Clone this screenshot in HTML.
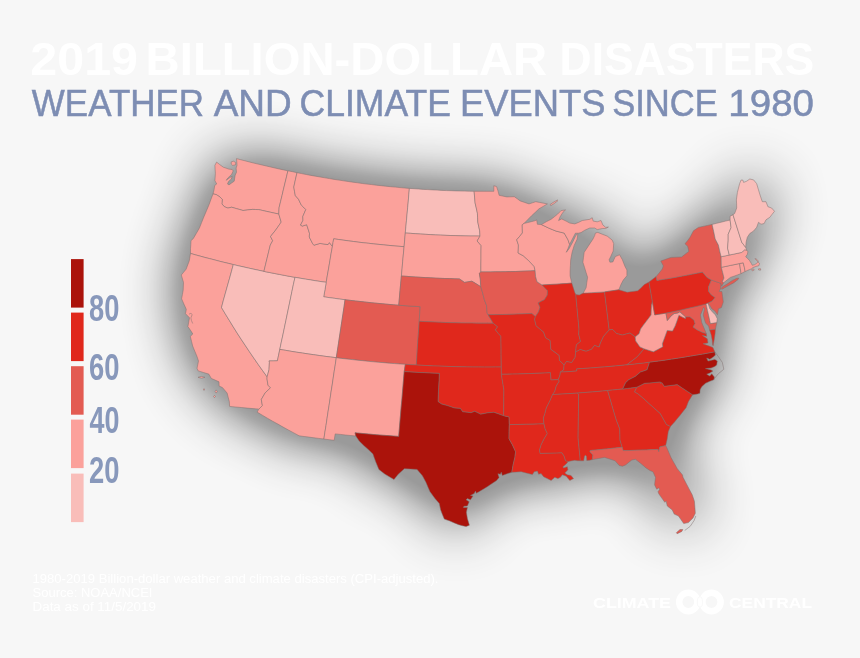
<!DOCTYPE html>
<html lang="en"><head><meta charset="utf-8"><title>2019 Billion-Dollar Disasters</title>
<style>
html,body{margin:0;padding:0;background:#f7f7f7;}
body{width:860px;height:658px;overflow:hidden;font-family:"Liberation Sans",sans-serif;}
svg{display:block}
text{font-family:"Liberation Sans",sans-serif}
</style></head><body>
<svg width="860" height="658" viewBox="0 0 860 658">
<defs>
<filter id="sh" x="-25%" y="-35%" width="150%" height="170%" color-interpolation-filters="sRGB">
<feGaussianBlur in="SourceAlpha" stdDeviation="30" result="b1"/>
<feComponentTransfer in="b1"><feFuncA type="table" tableValues="0 0.083 0.166 0.249 0.332 0.38 0.38 0.38 0.38 0.38 0.38"/></feComponentTransfer>
</filter>
</defs>
<rect width="860" height="658" fill="#f7f7f7"/>
<g filter="url(#sh)"><path d="M236.5,158.6 240.7,159.7 245.0,160.8 249.2,161.9 253.5,163.0 257.8,164.0 262.1,165.0 266.4,166.0 270.7,167.0 275.0,168.0 279.3,169.0 283.6,169.9 287.9,170.8 286.5,176.9 285.0,183.0 283.5,189.2 282.1,195.3 280.6,201.5 279.1,207.6 278.8,214.0 274.8,213.2 270.7,212.3 266.7,211.4 262.7,210.5 258.7,209.6 255.6,209.5 252.6,209.4 247.8,209.9 243.0,210.5 239.7,209.5 236.3,208.6 231.6,207.2 227.9,208.1 224.4,206.7 221.9,203.9 222.3,199.3 220.0,197.0 216.3,194.6 213.0,193.9 214.0,190.0 214.7,185.5 216.7,183.9 214.9,180.7 215.4,173.3 215.1,169.3 214.9,165.4 216.6,162.1 219.5,164.4 223.3,167.2 226.0,168.1 228.8,169.1 232.1,169.5 233.2,170.9 231.6,174.4 227.9,177.9 226.2,180.3 230.0,177.5 232.2,176.2 231.3,179.0 228.5,181.6 227.5,184.0 229.0,184.9 231.6,183.0 234.2,181.2 235.2,175.1 236.5,172.3 236.1,168.1 237.0,165.3 236.8,162.1ZM231.2,161.9 233.5,161.2 235.8,162.6 235.4,164.9 232.6,165.4 231.2,164.0ZM213.0,193.9 216.3,194.6 220.0,197.0 222.3,199.3 221.9,203.9 224.4,206.7 227.9,208.1 231.6,207.2 236.3,208.6 239.7,209.5 243.0,210.5 247.8,209.9 252.6,209.4 255.6,209.5 258.7,209.6 262.7,210.5 266.7,211.4 270.7,212.3 274.8,213.2 278.8,214.0 281.2,222.1 278.5,226.0 275.7,230.0 270.5,236.5 272.7,240.7 270.3,245.0 268.7,251.6 267.1,258.2 265.5,264.8 263.9,271.4 258.8,270.3 253.7,269.2 248.6,268.1 243.5,266.9 238.4,265.8 233.3,264.6 228.6,263.4 223.8,262.3 219.0,261.1 214.2,259.8 209.5,258.6 204.7,257.4 200.0,256.1 195.2,254.8 190.5,253.4 190.5,248.8 190.8,244.7 191.0,240.6 193.2,238.7 196.3,233.4 199.4,228.1 201.6,222.5 203.8,217.0 206.5,210.7 209.1,204.5 211.0,199.2ZM190.5,253.4 195.2,254.8 200.0,256.1 204.7,257.4 209.5,258.6 214.2,259.8 219.0,261.1 223.8,262.3 228.6,263.4 233.3,264.6 231.4,271.7 229.4,278.9 227.4,286.0 225.4,293.2 223.4,300.3 221.5,307.5 225.3,313.9 229.2,320.2 233.1,326.6 237.1,333.0 241.2,339.3 245.4,345.6 249.6,351.9 253.9,358.2 258.2,364.4 262.6,370.6 267.1,376.8 267.0,379.0 268.0,385.2 270.5,387.8 265.2,392.8 261.3,399.5 262.4,405.6 258.9,409.1 253.0,408.6 247.2,408.1 241.3,407.5 235.4,407.0 229.6,406.4 229.3,401.6 228.2,397.3 227.1,393.0 222.4,387.5 219.1,386.1 219.0,381.8 215.1,380.1 211.3,378.4 208.8,374.1 203.5,372.5 198.2,370.9 197.0,368.3 198.5,361.1 196.9,356.2 194.8,351.2 192.7,346.1 191.5,341.2 190.3,336.4 192.8,334.0 191.2,331.3 187.9,326.6 188.7,322.2 189.5,317.8 185.5,313.7 186.3,309.3 183.9,304.1 181.6,298.8 182.4,294.5 183.2,290.1 183.5,282.4 181.3,275.0 186.1,269.2 187.7,265.0 189.3,260.8ZM198.0,377.3 201.5,376.4 205.0,377.3 201.5,378.2ZM203.0,389.5 204.0,388.7 205.0,389.5 204.0,390.3ZM215.0,391.5 216.2,389.9 217.4,391.5 216.2,393.1ZM213.5,396.5 214.5,395.3 215.5,396.5 214.5,397.7ZM233.3,264.6 238.4,265.8 243.5,266.9 248.6,268.1 253.7,269.2 258.8,270.3 263.9,271.4 269.1,272.4 274.2,273.4 279.4,274.4 284.6,275.4 289.8,276.4 295.0,277.3 293.4,284.5 291.9,291.7 290.4,299.0 288.9,306.2 287.4,313.4 285.9,320.6 284.4,327.8 282.9,335.0 281.3,342.2 279.8,349.4 278.6,355.1 277.4,360.8 273.3,360.9 269.1,360.9 269.4,362.4 269.0,369.8 267.1,376.8 262.6,370.6 258.2,364.4 253.9,358.2 249.6,351.9 245.4,345.6 241.2,339.3 237.1,333.0 233.1,326.6 229.2,320.2 225.3,313.9 221.5,307.5 223.4,300.3 225.4,293.2 227.4,286.0 229.4,278.9 231.4,271.7ZM287.9,170.8 292.5,171.7 297.0,172.7 295.4,179.8 293.8,187.0 294.5,191.3 295.3,195.6 298.5,199.2 301.2,204.9 303.5,207.2 305.8,209.5 302.8,216.5 303.0,220.3 300.5,225.1 302.3,226.1 306.7,224.7 308.1,229.0 309.5,233.4 309.3,237.1 312.7,243.7 313.9,245.2 317.0,244.3 320.0,243.4 324.0,244.0 328.0,244.6 329.4,242.6 332.4,246.5 331.1,253.6 329.9,260.8 328.7,268.0 327.4,275.2 326.2,282.3 321.0,281.6 315.8,280.8 310.6,279.9 305.3,279.1 300.1,278.2 295.0,277.3 289.8,276.4 284.6,275.4 279.4,274.4 274.2,273.4 269.1,272.4 263.9,271.4 265.5,264.8 267.1,258.2 268.7,251.6 270.3,245.0 272.7,240.7 270.5,236.5 275.7,230.0 278.5,226.0 281.2,222.1 278.8,214.0 279.1,207.6 280.6,201.5 282.1,195.3 283.5,189.2 285.0,183.0 286.5,176.9ZM297.0,172.7 301.6,173.6 306.2,174.5 310.9,175.4 315.5,176.2 320.2,177.0 324.8,177.8 329.5,178.6 334.2,179.4 338.9,180.1 343.5,180.8 348.2,181.5 352.9,182.2 357.6,182.8 362.3,183.5 367.0,184.1 371.7,184.6 376.4,185.2 381.1,185.7 385.8,186.2 390.5,186.7 395.3,187.1 400.0,187.6 404.7,188.0 409.4,188.4 408.8,194.7 408.3,201.1 407.7,207.4 407.1,213.8 406.5,220.2 405.9,226.6 405.3,233.0 404.7,239.8 404.1,246.7 399.0,246.3 394.0,245.9 388.9,245.4 383.9,244.9 378.9,244.4 373.8,243.9 368.8,243.3 363.8,242.8 358.7,242.2 353.7,241.5 348.7,240.9 343.7,240.2 338.7,239.5 333.7,238.8 333.0,242.6 332.4,246.5 329.4,242.6 328.0,244.6 324.0,244.0 320.0,243.4 317.0,244.3 313.9,245.2 312.7,243.7 309.3,237.1 309.5,233.4 308.1,229.0 306.7,224.7 302.3,226.1 300.5,225.1 303.0,220.3 302.8,216.5 305.8,209.5 303.5,207.2 301.2,204.9 298.5,199.2 295.3,195.6 294.5,191.3 293.8,187.0 295.4,179.8ZM332.4,246.5 333.0,242.6 333.7,238.8 338.7,239.5 343.7,240.2 348.7,240.9 353.7,241.5 358.7,242.2 363.8,242.8 368.8,243.3 373.8,243.9 378.9,244.4 383.9,244.9 388.9,245.4 394.0,245.9 399.0,246.3 404.1,246.7 403.4,254.0 402.7,261.3 402.1,268.6 401.4,276.0 400.7,283.3 400.0,290.6 399.4,297.9 398.7,305.2 393.3,304.8 387.9,304.3 382.6,303.8 377.2,303.3 371.8,302.8 366.5,302.2 361.1,301.6 355.7,301.0 350.4,300.4 345.0,299.7 339.7,299.1 334.4,298.3 329.0,297.6 323.7,296.8 325.0,289.6 326.2,282.3 327.4,275.2 328.7,268.0 329.9,260.8 331.1,253.6ZM295.0,277.3 300.1,278.2 305.3,279.1 310.6,279.9 315.8,280.8 321.0,281.6 326.2,282.3 325.0,289.6 323.7,296.8 329.0,297.6 334.4,298.3 339.7,299.1 345.0,299.7 344.0,307.0 342.9,314.3 341.8,321.5 340.7,328.8 339.6,336.0 338.5,343.3 337.4,350.5 336.3,357.7 330.6,357.0 325.0,356.3 319.3,355.5 313.6,354.7 308.0,353.9 302.3,353.0 296.7,352.2 291.1,351.3 285.4,350.3 279.8,349.4 281.3,342.2 282.9,335.0 284.4,327.8 285.9,320.6 287.4,313.4 288.9,306.2 290.4,299.0 291.9,291.7 293.4,284.5ZM279.8,349.4 285.4,350.3 291.1,351.3 296.7,352.2 302.3,353.0 308.0,353.9 313.6,354.7 319.3,355.5 325.0,356.3 330.6,357.0 336.3,357.7 335.3,364.6 334.2,371.4 333.2,378.2 332.2,385.0 331.1,391.8 330.1,398.6 329.1,405.3 328.0,412.1 327.0,418.8 326.0,425.6 324.9,432.3 323.9,439.0 318.9,438.4 314.0,437.8 309.0,437.1 304.1,436.5 299.1,435.8 293.8,432.9 288.4,430.0 283.1,427.1 277.9,424.1 272.6,421.2 267.4,418.2 262.3,415.2 257.1,412.1 258.9,409.1 262.4,405.6 261.3,399.5 265.2,392.8 270.5,387.8 268.0,385.2 267.0,379.0 267.1,376.8 269.0,369.8 269.4,362.4 269.1,360.9 273.3,360.9 277.4,360.8 278.6,355.1ZM345.0,299.7 350.4,300.4 355.7,301.0 361.1,301.6 366.5,302.2 371.8,302.8 377.2,303.3 382.6,303.8 387.9,304.3 393.3,304.8 398.7,305.2 404.1,305.6 409.5,306.0 414.8,306.3 420.2,306.7 419.7,314.0 419.2,321.3 418.7,328.6 418.2,335.9 417.7,343.2 417.2,350.5 416.8,357.7 416.3,365.0 410.8,364.7 405.3,364.3 400.0,364.0 394.6,363.6 389.3,363.2 384.0,362.7 378.7,362.3 373.4,361.8 368.1,361.3 362.8,360.7 357.5,360.2 352.2,359.6 346.9,359.0 341.6,358.4 336.3,357.7 337.4,350.5 338.5,343.3 339.6,336.0 340.7,328.8 341.8,321.5 342.9,314.3 344.0,307.0ZM336.3,357.7 341.6,358.4 346.9,359.0 352.2,359.6 357.5,360.2 362.8,360.7 368.1,361.3 373.4,361.8 378.7,362.3 384.0,362.7 389.3,363.2 394.6,363.6 400.0,364.0 405.3,364.3 404.2,371.6 403.6,378.8 403.0,386.0 402.4,393.3 401.8,400.5 401.1,407.7 400.5,414.9 399.9,422.1 399.3,429.3 398.7,436.4 393.2,436.0 387.8,435.6 382.3,435.2 376.8,434.8 371.4,434.3 365.9,433.8 360.5,433.3 355.0,432.8 355.8,436.0 350.6,435.5 345.5,435.0 340.3,434.4 335.2,433.9 334.2,440.3 329.1,439.7 323.9,439.0 324.9,432.3 326.0,425.6 327.0,418.8 328.0,412.1 329.1,405.3 330.1,398.6 331.1,391.8 332.2,385.0 333.2,378.2 334.2,371.4 335.3,364.6ZM409.4,188.4 414.0,188.7 418.6,189.0 423.3,189.4 427.9,189.6 432.5,189.9 437.1,190.1 441.7,190.4 446.3,190.6 451.0,190.7 455.6,190.9 460.2,191.0 464.8,191.1 469.4,191.2 474.1,191.3 474.6,197.1 475.1,203.0 476.3,208.1 477.4,213.2 477.6,217.6 477.8,222.0 478.7,226.4 479.7,230.8 480.0,236.1 475.0,236.0 470.1,236.0 465.1,235.9 460.1,235.8 455.1,235.6 450.1,235.5 445.1,235.3 440.2,235.1 435.2,234.9 430.2,234.6 425.2,234.3 420.3,234.0 415.3,233.7 410.3,233.3 405.3,233.0 405.9,226.6 406.5,220.2 407.1,213.8 407.7,207.4 408.3,201.1 408.8,194.7ZM405.3,233.0 410.3,233.3 415.3,233.7 420.3,234.0 425.2,234.3 430.2,234.6 435.2,234.9 440.2,235.1 445.1,235.3 450.1,235.5 455.1,235.6 460.1,235.8 465.1,235.9 470.1,236.0 475.0,236.0 480.0,236.1 477.1,241.0 481.1,245.5 481.0,252.1 481.0,258.7 480.9,265.3 480.9,271.9 479.3,273.3 480.3,279.2 480.5,283.0 480.8,286.7 478.2,285.1 475.0,283.1 471.9,281.2 468.2,281.8 464.5,282.4 459.4,278.9 454.5,278.8 449.7,278.6 444.9,278.5 440.0,278.3 435.2,278.1 430.4,277.8 425.5,277.6 420.7,277.3 415.9,277.0 411.0,276.7 406.2,276.3 401.4,276.0 402.1,268.6 402.7,261.3 403.4,254.0 404.1,246.7 404.7,239.8ZM401.4,276.0 406.2,276.3 411.0,276.7 415.9,277.0 420.7,277.3 425.5,277.6 430.4,277.8 435.2,278.1 440.0,278.3 444.9,278.5 449.7,278.6 454.5,278.8 459.4,278.9 464.5,282.4 468.2,281.8 471.9,281.2 475.0,283.1 478.2,285.1 480.8,286.7 482.9,293.9 484.4,299.8 486.6,305.6 487.1,313.0 488.0,314.7 491.0,319.6 493.1,323.2 487.8,323.2 482.5,323.2 477.2,323.2 471.9,323.1 466.7,323.1 461.4,323.0 456.1,322.8 450.8,322.7 445.6,322.5 440.3,322.3 435.0,322.1 429.7,321.8 424.5,321.6 419.2,321.3 419.7,314.0 420.2,306.7 414.8,306.3 409.5,306.0 404.1,305.6 398.7,305.2 399.4,297.9 400.0,290.6 400.7,283.3ZM419.2,321.3 424.5,321.6 429.7,321.8 435.0,322.1 440.3,322.3 445.6,322.5 450.8,322.7 456.1,322.8 461.4,323.0 466.7,323.1 471.9,323.1 477.2,323.2 482.5,323.2 487.8,323.2 493.1,323.2 497.6,326.8 495.4,329.8 498.2,333.4 500.9,336.2 501.0,342.3 501.1,348.5 501.1,354.7 501.2,360.8 501.3,367.0 495.6,367.0 490.0,367.1 484.3,367.1 478.6,367.0 472.9,367.0 467.3,366.9 461.6,366.8 455.9,366.7 450.3,366.5 444.6,366.3 438.9,366.1 433.3,365.9 427.6,365.6 421.9,365.3 416.3,365.0 416.8,357.7 417.2,350.5 417.7,343.2 418.2,335.9 418.7,328.6ZM416.3,365.0 421.9,365.3 427.6,365.6 433.3,365.9 438.9,366.1 444.6,366.3 450.3,366.5 455.9,366.7 461.6,366.8 467.3,366.9 472.9,367.0 478.6,367.0 484.3,367.1 490.0,367.1 495.6,367.0 501.3,367.0 501.4,374.3 502.2,379.6 503.1,384.9 503.9,390.2 503.8,396.6 503.8,403.0 503.7,409.3 503.6,415.7 498.7,414.0 493.9,412.3 487.9,412.8 484.3,413.5 480.7,414.2 474.7,411.3 471.1,412.7 466.9,412.2 462.7,411.8 460.4,408.4 454.4,408.0 450.9,406.8 447.3,405.6 441.5,404.0 438.0,401.5 438.3,394.5 438.6,387.5 439.0,380.5 439.3,373.4 434.3,373.2 429.3,373.0 424.3,372.7 419.2,372.5 414.2,372.2 409.2,371.9 404.2,371.6 405.3,364.3 410.8,364.7ZM404.2,371.6 409.2,371.9 414.2,372.2 419.2,372.5 424.3,372.7 429.3,373.0 434.3,373.2 439.3,373.4 439.0,380.5 438.6,387.5 438.3,394.5 438.0,401.5 441.5,404.0 447.3,405.6 450.9,406.8 454.4,408.0 460.4,408.4 462.7,411.8 466.9,412.2 471.1,412.7 474.7,411.3 480.7,414.2 484.3,413.5 487.9,412.8 493.9,412.3 498.7,414.0 503.6,415.7 509.1,416.9 509.2,420.7 509.3,424.6 509.1,431.6 509.0,438.7 512.5,444.9 515.6,451.8 514.9,457.4 514.0,461.1 513.1,464.9 512.5,468.6 511.8,472.3 507.2,473.7 502.3,475.5 501.3,472.2 500.4,474.3 497.9,473.7 499.1,477.4 496.6,480.5 494.8,481.7 491.0,484.2 487.3,486.7 483.6,489.0 479.8,491.3 476.3,493.3 475.5,491.1 474.2,493.6 470.5,495.4 473.0,496.1 470.5,499.8 467.4,498.6 466.1,499.8 469.2,501.7 467.4,506.0 463.9,506.3 463.4,507.5 467.4,507.5 466.4,512.3 467.4,518.5 469.4,525.2 466.1,526.6 462.4,525.7 458.7,524.7 454.3,522.9 449.9,521.0 444.3,519.1 442.4,514.4 440.6,509.8 439.3,503.5 435.0,498.6 429.9,491.6 427.9,486.9 425.9,482.2 422.4,475.7 417.1,469.4 410.7,469.1 404.4,468.7 398.2,474.3 394.0,479.5 389.4,476.8 384.8,474.1 378.9,469.4 375.8,462.0 374.3,457.9 372.9,453.9 368.3,449.6 363.7,445.4 359.2,441.1 355.8,436.0 355.0,432.8 360.5,433.3 365.9,433.8 371.4,434.3 376.8,434.8 382.3,435.2 387.8,435.6 393.2,436.0 398.7,436.4 399.3,429.3 399.9,422.1 400.5,414.9 401.1,407.7 401.8,400.5 402.4,393.3 403.0,386.0 403.6,378.8ZM480.0,236.1 479.7,230.8 478.7,226.4 477.8,222.0 477.6,217.6 477.4,213.2 476.3,208.1 475.1,203.0 474.6,197.1 474.1,191.3 478.0,191.3 482.0,191.3 485.9,191.3 489.9,191.3 493.8,191.3 493.8,185.7 496.6,186.6 498.1,191.2 499.1,195.3 502.9,196.1 506.7,196.9 510.5,196.8 514.4,196.7 517.3,198.8 520.2,200.9 524.6,202.4 529.0,203.9 532.4,202.8 535.7,201.7 539.6,202.4 543.5,203.2 547.4,203.9 543.2,206.4 539.0,208.8 535.3,212.3 531.5,215.8 527.8,219.6 524.0,223.4 522.2,224.8 522.3,228.9 522.4,233.0 519.6,236.4 516.7,239.8 518.4,244.9 518.3,249.0 518.1,253.0 523.3,255.8 528.7,260.7 534.1,266.4 535.1,270.7 530.2,270.9 525.3,271.1 520.4,271.3 515.4,271.5 510.5,271.6 505.6,271.7 500.6,271.8 495.7,271.8 490.8,271.9 485.8,271.9 480.9,271.9 480.9,265.3 481.0,258.7 481.0,252.1 481.1,245.5 477.1,241.0ZM480.9,271.9 485.8,271.9 490.8,271.9 495.7,271.8 500.6,271.8 505.6,271.7 510.5,271.6 515.4,271.5 520.4,271.3 525.3,271.1 530.2,270.9 535.1,270.7 535.6,276.6 537.0,281.7 542.0,285.0 547.5,290.7 547.3,295.1 544.4,299.7 541.2,301.3 538.1,302.9 540.0,307.3 538.6,311.7 535.4,316.6 531.8,313.5 527.0,313.7 522.1,313.9 517.2,314.1 512.4,314.3 507.5,314.4 502.6,314.5 497.8,314.6 492.9,314.7 488.0,314.7 487.1,313.0 486.6,305.6 484.4,299.8 482.9,293.9 480.8,286.7 480.5,283.0 480.3,279.2 479.3,273.3ZM488.0,314.7 492.9,314.7 497.8,314.6 502.6,314.5 507.5,314.4 512.4,314.3 517.2,314.1 522.1,313.9 527.0,313.7 531.8,313.5 535.4,316.6 534.6,319.3 536.1,325.8 539.8,328.9 543.6,332.1 545.6,337.8 550.2,340.5 550.5,344.9 550.8,349.3 555.0,352.3 559.2,355.4 559.5,360.5 564.1,364.9 563.7,369.8 560.4,372.1 560.0,375.1 558.3,379.6 554.6,379.8 550.9,380.0 550.4,372.7 545.0,373.0 539.5,373.2 534.1,373.4 528.6,373.6 523.2,373.8 517.7,374.0 512.3,374.1 506.9,374.2 501.4,374.3 501.3,367.0 501.2,360.8 501.1,354.7 501.1,348.5 501.0,342.3 500.9,336.2 498.2,333.4 495.4,329.8 497.6,326.8 493.1,323.2 491.0,319.6ZM501.4,374.3 506.9,374.2 512.3,374.1 517.7,374.0 523.2,373.8 528.6,373.6 534.1,373.4 539.5,373.2 545.0,373.0 550.4,372.7 550.9,380.0 554.6,379.8 558.3,379.6 559.3,381.0 556.2,386.2 554.8,391.4 552.6,394.6 550.1,400.4 546.4,407.8 544.9,413.7 543.4,418.1 544.0,423.8 538.2,424.0 532.5,424.2 526.7,424.3 520.9,424.4 515.1,424.5 509.3,424.6 509.2,420.7 509.1,416.9 503.6,415.7 503.7,409.3 503.8,403.0 503.8,396.6 503.9,390.2 503.1,384.9 502.2,379.6ZM509.3,424.6 515.1,424.5 520.9,424.4 526.7,424.3 532.5,424.2 538.2,424.0 544.0,423.8 545.1,428.7 547.3,433.5 544.2,438.7 541.1,444.9 539.6,449.9 540.1,453.4 545.6,453.2 551.0,453.1 556.5,452.9 561.9,452.7 564.1,456.1 565.6,460.8 568.3,461.4 567.9,462.0 566.0,464.2 562.9,466.7 563.5,468.0 567.3,466.7 567.9,469.8 564.8,473.0 567.3,474.8 571.0,475.4 573.5,478.6 569.8,480.4 566.0,476.1 562.3,474.8 560.4,477.3 557.9,478.6 554.8,477.3 551.1,480.4 547.3,478.6 543.6,476.7 541.1,473.6 538.6,474.2 537.4,471.1 534.3,471.7 532.4,474.6 526.2,473.0 521.2,471.7 516.2,472.1 511.8,472.3 512.5,468.6 513.1,464.9 514.0,461.1 514.9,457.4 515.6,451.8 512.5,444.9 509.0,438.7 509.1,431.6ZM535.1,270.7 534.1,266.4 528.7,260.7 523.3,255.8 518.1,253.0 518.3,249.0 518.4,244.9 516.7,239.8 519.6,236.4 522.4,233.0 522.3,228.9 522.2,224.8 524.0,223.4 527.6,222.6 531.2,221.7 534.7,220.8 536.7,219.9 537.4,224.3 541.4,224.6 545.0,226.3 548.6,228.0 552.4,229.6 556.1,231.1 560.2,232.1 564.2,233.1 568.0,239.8 569.6,244.4 568.0,248.5 566.3,252.3 569.2,248.5 572.9,241.7 575.8,235.5 577.9,233.6 577.1,239.2 574.2,245.4 572.1,252.3 570.7,259.8 570.4,265.4 570.1,271.0 570.1,275.9 571.8,283.1 566.9,283.5 561.9,283.8 556.9,284.2 551.9,284.4 547.0,284.7 542.0,285.0 537.0,281.7 535.6,276.6ZM542.0,285.0 547.0,284.7 551.9,284.4 556.9,284.2 561.9,283.8 566.9,283.5 571.8,283.1 573.3,287.8 574.8,292.5 575.8,294.6 576.4,301.5 577.1,308.4 577.7,315.3 578.4,322.2 579.0,329.0 578.7,334.2 580.5,341.4 576.4,344.7 575.6,352.1 575.2,357.2 571.7,362.6 566.5,361.5 564.1,364.9 559.5,360.5 559.2,355.4 555.0,352.3 550.8,349.3 550.5,344.9 550.2,340.5 545.6,337.8 543.6,332.1 539.8,328.9 536.1,325.8 534.6,319.3 535.4,316.6 538.6,311.7 540.0,307.3 538.1,302.9 541.2,301.3 544.4,299.7 547.3,295.1 547.5,290.7ZM575.8,294.6 579.3,295.1 583.2,293.1 587.5,292.9 591.7,292.7 596.0,292.4 600.3,292.2 604.6,291.9 605.3,298.2 606.1,304.6 606.9,310.9 607.7,317.2 608.4,323.6 609.2,329.9 606.4,333.1 603.5,336.4 600.4,343.0 599.2,347.1 594.5,345.4 591.5,349.3 586.0,351.3 580.2,349.5 575.6,352.1 576.4,344.7 580.5,341.4 578.7,334.2 579.0,329.0 578.4,322.2 577.7,315.3 577.1,308.4 576.4,301.5ZM583.2,293.1 586.1,287.8 586.8,282.6 587.6,277.3 586.0,272.3 584.5,267.3 582.9,262.2 583.5,257.3 584.2,252.3 587.9,246.7 590.4,242.9 592.9,239.2 594.7,235.5 595.4,233.0 597.8,232.4 602.2,234.2 607.2,236.1 612.2,240.1 613.7,243.6 613.2,251.0 610.7,256.6 609.1,259.8 609.9,262.2 612.8,262.0 615.3,256.6 619.6,254.8 622.4,259.8 623.8,263.5 625.3,267.2 626.9,269.9 626.9,275.8 623.3,280.0 621.2,284.0 618.8,289.8 614.1,290.5 609.3,291.2 604.6,291.9 600.3,292.2 596.0,292.4 591.7,292.7 587.5,292.9ZM541.4,224.6 546.2,221.8 548.7,220.5 551.1,219.3 554.3,216.8 557.4,214.3 561.1,210.6 565.5,209.9 563.0,212.2 560.1,216.8 558.6,220.5 561.7,218.9 566.1,221.1 569.8,223.1 574.8,223.9 578.5,222.4 582.3,220.5 586.0,219.9 589.8,219.3 592.2,217.7 593.2,221.1 597.2,221.8 601.0,220.5 602.8,224.9 605.7,227.4 608.4,227.0 605.9,228.4 602.2,228.6 599.7,229.1 597.2,229.6 594.7,228.0 589.8,228.0 587.3,229.1 584.8,230.2 581.0,232.6 578.3,233.2 575.4,233.2 572.9,238.0 569.6,244.4 568.0,239.8 564.2,233.1 560.2,232.1 556.1,231.1 552.4,229.6 548.6,228.0 545.0,226.3ZM549.9,204.7 553.0,202.5 557.4,200.0 558.0,200.6 554.3,203.5 550.9,205.6ZM604.6,291.9 609.3,291.2 614.1,290.5 618.8,289.8 623.0,291.0 627.2,292.2 630.9,291.7 634.6,291.2 637.8,290.8 641.1,287.7 644.3,284.6 649.0,282.0 650.1,288.5 651.3,295.0 652.4,301.5 651.6,305.2 651.3,310.1 651.1,315.0 648.6,318.3 646.1,321.6 642.9,325.8 640.6,329.1 639.1,333.7 635.2,336.9 630.0,333.0 626.2,334.0 622.4,335.1 616.6,333.5 612.7,329.5 609.2,329.9 608.4,323.6 607.7,317.2 606.9,310.9 606.1,304.6 605.3,298.2ZM575.6,352.1 580.2,349.5 586.0,351.3 591.5,349.3 594.5,345.4 599.2,347.1 600.4,343.0 603.5,336.4 606.4,333.1 609.2,329.9 612.7,329.5 616.6,333.5 622.4,335.1 626.2,334.0 630.0,333.0 635.2,336.9 635.7,340.9 640.0,347.0 644.1,348.8 640.6,352.9 637.0,357.0 631.9,360.9 626.8,364.8 621.3,365.4 615.7,365.9 610.1,366.4 604.6,366.9 599.0,367.3 593.4,367.8 587.8,368.2 582.2,368.5 576.6,368.9 576.8,371.0 571.4,371.4 565.9,371.8 560.4,372.1 563.7,369.8 564.1,364.9 566.5,361.5 571.7,362.6 575.2,357.2ZM560.4,372.1 565.9,371.8 571.4,371.4 576.8,371.0 576.6,368.9 582.2,368.5 587.8,368.2 593.4,367.8 599.0,367.3 604.6,366.9 610.1,366.4 615.7,365.9 621.3,365.4 626.8,364.8 632.5,364.2 638.2,363.5 643.9,362.9 649.6,362.1 647.1,369.7 643.8,370.9 640.5,372.0 635.3,376.4 632.0,378.1 628.7,379.8 625.6,382.7 622.7,389.0 617.7,389.5 612.7,390.0 607.6,390.5 602.6,391.0 597.5,391.5 592.5,391.9 587.4,392.3 582.4,392.7 577.3,393.1 572.4,393.4 567.5,393.7 562.5,394.0 557.6,394.3 552.6,394.6 554.8,391.4 556.2,386.2 559.3,381.0 558.3,379.6 560.0,375.1ZM552.6,394.6 557.6,394.3 562.5,394.0 567.5,393.7 572.4,393.4 577.3,393.1 578.6,394.3 578.5,401.6 578.5,408.9 578.4,416.1 578.3,423.4 578.2,430.6 578.1,437.8 578.6,443.6 579.2,449.3 579.8,455.0 580.3,460.8 577.8,460.7 574.7,460.3 571.0,460.9 568.3,461.4 565.6,460.8 564.1,456.1 561.9,452.7 556.5,452.9 551.0,453.1 545.6,453.2 540.1,453.4 539.6,449.9 541.1,444.9 544.2,438.7 547.3,433.5 545.1,428.7 544.0,423.8 543.4,418.1 544.9,413.7 546.4,407.8 550.1,400.4ZM577.3,393.1 582.4,392.7 587.4,392.3 592.5,391.9 597.5,391.5 602.6,391.0 607.6,390.5 609.4,396.6 611.2,402.6 612.9,408.6 614.7,414.6 616.5,420.6 618.1,424.6 619.7,428.6 619.9,434.4 620.0,440.1 622.2,447.2 616.8,447.8 611.5,448.4 606.2,448.9 600.9,449.5 595.5,450.0 590.2,450.5 589.9,451.8 592.9,454.9 592.4,459.6 589.7,460.2 586.8,460.5 586.4,456.1 585.4,455.3 584.5,456.1 583.7,460.8 580.3,460.8 579.8,455.0 579.2,449.3 578.6,443.6 578.1,437.8 578.2,430.6 578.3,423.4 578.4,416.1 578.5,408.9 578.5,401.6 578.6,394.3ZM607.6,390.5 612.7,390.0 617.7,389.5 622.7,389.0 627.4,388.4 632.1,387.8 636.8,387.2 634.6,391.9 637.9,393.7 644.7,399.5 648.9,403.4 653.2,407.2 660.3,413.6 663.4,419.1 666.5,424.5 670.5,426.4 668.3,431.6 667.2,439.0 665.7,445.6 659.8,446.9 658.8,451.8 658.0,449.4 652.1,449.6 646.3,449.9 640.5,450.1 634.7,450.3 628.9,450.5 623.1,450.6 622.2,447.2 620.0,440.1 619.9,434.4 619.7,428.6 618.1,424.6 616.5,420.6 614.7,414.6 612.9,408.6 611.2,402.6 609.4,396.6ZM592.4,459.6 592.9,454.9 589.9,451.8 590.2,450.5 595.5,450.0 600.9,449.5 606.2,448.9 611.5,448.4 616.8,447.8 622.2,447.2 623.1,450.6 628.9,450.5 634.7,450.3 640.5,450.1 646.3,449.9 652.1,449.6 658.0,449.4 658.8,451.8 659.8,446.9 665.7,445.6 666.7,447.5 668.9,452.5 671.0,457.5 674.1,463.1 677.3,468.7 682.5,474.9 682.9,477.1 686.0,483.1 689.1,488.9 692.2,494.8 694.4,501.2 694.9,507.3 695.3,513.3 693.0,517.9 688.4,522.6 683.7,523.5 681.1,519.8 678.5,516.0 674.2,514.1 672.3,510.0 667.3,506.0 666.1,501.1 664.8,502.3 661.8,498.1 658.8,493.8 658.0,491.7 659.8,489.2 658.6,488.0 656.7,489.2 654.6,484.9 655.0,481.1 655.5,477.4 653.0,471.8 649.9,470.5 646.1,468.0 641.1,463.7 635.5,459.3 631.8,460.0 628.7,462.4 625.6,464.9 622.5,466.2 619.3,465.6 615.1,460.8 609.8,459.1 604.6,457.4 598.5,458.5ZM676.3,532.8 680.0,529.5 682.8,529.5 681.9,531.4 677.2,533.7ZM670.5,426.4 666.5,424.5 663.4,419.1 660.3,413.6 653.2,407.2 648.9,403.4 644.7,399.5 637.9,393.7 634.6,391.9 636.8,387.2 640.7,385.3 644.6,383.3 649.9,382.9 655.1,382.4 660.4,381.9 660.7,383.4 661.8,382.5 664.3,386.3 668.6,385.7 672.9,385.2 677.2,384.6 682.3,388.0 687.5,391.4 692.6,394.8 688.5,401.4 686.1,407.7 683.1,411.4 680.2,415.2 677.4,418.5 674.6,421.9ZM622.7,389.0 625.6,382.7 628.7,379.8 632.0,378.1 635.3,376.4 640.5,372.0 643.8,370.9 647.1,369.7 649.6,362.1 655.1,361.4 660.5,360.7 666.0,359.9 671.4,359.1 676.9,358.3 682.3,357.4 687.8,356.5 693.2,355.6 698.6,354.7 704.0,353.8 709.4,352.8 714.8,351.8 715.4,354.9 713.6,356.8 709.8,359.3 706.7,358.0 708.0,361.1 711.4,360.3 714.8,359.4 717.3,360.9 716.7,364.9 714.8,366.4 711.1,368.0 705.5,368.6 711.1,369.9 712.9,371.1 709.8,373.0 706.7,374.2 709.8,376.1 711.7,373.8 714.4,377.1 713.8,379.8 709.8,381.3 705.5,383.3 701.7,386.7 700.1,389.8 699.9,393.3 697.4,394.1 692.6,394.8 687.5,391.4 682.3,388.0 677.2,384.6 672.9,385.2 668.6,385.7 664.3,386.3 661.8,382.5 660.7,383.4 660.4,381.9 655.1,382.4 649.9,382.9 644.6,383.3 640.7,385.3 636.8,387.2 632.1,387.8 627.4,388.4ZM649.6,362.1 643.9,362.9 638.2,363.5 632.5,364.2 626.8,364.8 631.9,360.9 637.0,357.0 640.6,352.9 644.1,348.8 648.7,350.3 653.4,351.8 658.1,349.3 662.8,346.7 662.3,343.8 664.8,337.1 667.2,330.4 672.5,331.1 675.2,325.8 677.1,320.6 678.9,315.3 682.1,316.9 685.4,318.5 685.5,316.8 689.9,316.8 693.9,319.9 695.1,323.4 693.1,327.1 697.4,329.9 701.7,332.1 706.3,333.6 706.7,336.3 702.4,335.5 707.3,338.8 708.0,342.9 703.0,343.8 709.2,346.1 712.9,347.5 714.8,351.8 709.4,352.8 704.0,353.8 698.6,354.7 693.2,355.6 687.8,356.5 682.3,357.4 676.9,358.3 671.4,359.1 666.0,359.9 660.5,360.7 655.1,361.4ZM709.6,329.9 711.1,334.8 712.1,339.8 712.6,344.8 713.1,345.7 714.2,339.8 715.1,333.6 715.4,329.2 712.5,329.6ZM644.1,348.8 640.0,347.0 635.7,340.9 635.2,336.9 639.1,333.7 640.6,329.1 642.9,325.8 646.1,321.6 648.6,318.3 651.1,315.0 651.3,310.1 651.6,305.2 652.4,301.5 653.5,308.2 654.7,314.9 658.5,314.3 662.2,313.7 665.9,313.1 666.6,316.8 667.3,320.5 671.0,316.0 674.1,313.6 677.9,312.9 679.9,311.8 685.5,316.8 685.4,318.5 682.1,316.9 678.9,315.3 677.1,320.6 675.2,325.8 672.5,331.1 667.2,330.4 664.8,337.1 662.3,343.8 662.8,346.7 658.1,349.3 653.4,351.8 648.7,350.3ZM665.9,313.1 666.6,316.8 667.3,320.5 671.0,316.0 674.1,313.6 677.9,312.9 679.9,311.8 685.5,316.8 689.9,316.8 693.9,319.9 695.1,323.4 693.1,327.1 697.4,329.9 701.7,332.1 706.3,333.6 703.8,327.6 701.7,322.4 701.1,318.6 700.5,314.9 703.0,308.7 703.6,307.4 704.5,308.7 703.2,314.9 704.3,319.0 705.5,323.0 708.6,326.1 709.6,329.9 712.5,329.6 715.4,329.2 716.8,322.6 713.6,323.1 710.4,323.6 709.0,317.1 707.5,310.5 706.1,303.9 701.1,305.2 696.1,306.4 691.1,307.6 686.1,308.7 681.1,309.9 676.0,311.0 671.0,312.1ZM706.1,303.9 707.5,310.5 709.0,317.1 710.4,323.6 713.6,323.1 716.8,322.6 717.3,318.7 715.4,314.9 712.3,311.8 709.8,308.7 708.0,303.2 707.0,303.0ZM656.2,276.5 652.6,279.2 649.0,282.0 650.1,288.5 651.3,295.0 652.4,301.5 653.5,308.2 654.7,314.9 658.5,314.3 662.2,313.7 665.9,313.1 671.0,312.1 676.0,311.0 681.1,309.9 686.1,308.7 691.1,307.6 696.1,306.4 701.1,305.2 706.1,303.9 707.0,303.0 708.0,303.2 712.0,301.2 715.1,297.6 711.0,294.6 708.6,291.3 708.6,286.8 711.4,280.0 706.9,277.3 702.5,272.1 697.5,273.1 692.4,274.1 687.4,275.1 682.3,276.0 677.2,277.0 672.1,277.9 667.1,278.8 662.0,279.6 656.9,280.4ZM711.4,280.0 716.2,281.7 721.0,283.4 720.6,288.8 719.1,291.4 721.9,291.5 722.6,296.7 723.3,301.9 721.4,307.6 718.5,308.7 717.5,314.7 714.8,310.9 711.7,308.7 709.8,305.6 708.0,303.2 712.0,301.2 715.1,297.6 711.0,294.6 708.6,291.3 708.6,286.8ZM656.2,276.5 659.3,272.8 662.3,269.0 663.3,265.9 660.8,261.0 664.3,259.8 667.7,258.6 671.2,257.4 676.4,257.2 681.6,257.0 686.1,253.4 688.8,251.4 687.7,246.3 685.0,243.8 687.5,240.7 689.9,237.5 693.5,230.7 696.0,229.1 698.4,227.4 703.0,226.4 707.6,225.4 712.1,224.4 713.7,231.6 715.2,238.9 718.4,245.1 719.7,250.9 721.1,256.7 721.2,262.0 721.3,267.3 722.7,272.7 724.0,278.1 722.4,281.5 723.6,282.8 721.7,286.3 721.0,283.4 716.2,281.7 711.4,280.0 706.9,277.3 702.5,272.1 697.5,273.1 692.4,274.1 687.4,275.1 682.3,276.0 677.2,277.0 672.1,277.9 667.1,278.8 662.0,279.6 656.9,280.4ZM721.1,288.5 722.6,286.7 727.4,283.8 729.9,282.1 732.4,280.4 736.7,278.3 738.8,278.1 738.0,279.6 733.6,282.9 730.5,284.6 727.4,286.3 724.6,287.8 721.8,289.3ZM723.6,282.8 722.4,281.5 724.0,278.1 722.7,272.7 721.3,267.3 725.9,266.4 730.4,265.4 735.0,264.5 739.6,263.5 740.3,268.6 741.1,273.6 737.5,274.9 734.0,276.2 730.4,277.4 727.0,280.1ZM741.1,273.6 740.3,268.6 739.6,263.5 743.2,262.8 744.4,267.4 745.1,271.5 742.9,272.6ZM721.3,267.3 721.2,262.0 721.1,256.7 725.2,255.9 729.3,255.0 733.4,254.2 737.6,253.3 741.7,252.4 744.8,249.7 746.7,250.2 747.9,251.8 747.3,254.3 745.7,256.8 747.6,258.4 749.5,260.5 751.3,263.4 752.3,265.3 754.8,264.6 757.5,262.6 758.3,261.1 757.0,259.5 755.3,258.4 754.8,258.9 756.6,260.3 757.9,261.8 759.5,263.4 758.9,265.7 756.0,266.4 752.9,267.6 751.3,268.9 749.5,269.6 747.3,270.5 745.1,271.5 744.4,267.4 743.2,262.8 739.6,263.5 735.0,264.5 730.4,265.4 725.9,266.4ZM751.7,269.6 753.5,268.9 754.2,270.1 752.3,270.9ZM758.3,268.9 760.4,268.6 760.8,270.1 758.8,270.1ZM712.1,224.4 716.6,223.3 721.1,222.2 725.6,221.1 730.1,220.0 731.1,227.5 728.2,234.3 728.2,240.4 727.6,248.2 729.3,255.0 725.2,255.9 721.1,256.7 719.7,250.9 718.4,245.1 715.2,238.9 713.7,231.6ZM730.1,220.0 730.1,216.2 733.0,214.7 734.8,220.4 736.6,226.1 738.3,231.4 740.0,236.8 741.7,242.2 745.7,247.4 746.7,250.2 744.8,249.7 741.7,252.4 737.6,253.3 733.4,254.2 729.3,255.0 727.6,248.2 728.2,240.4 728.2,234.3 731.1,227.5ZM733.0,214.7 734.6,213.6 736.7,208.0 736.6,203.9 736.4,199.9 737.4,192.4 738.5,188.0 739.6,183.7 741.1,180.0 743.0,180.2 743.6,182.4 746.7,181.2 749.8,179.0 753.6,179.9 756.7,183.7 758.5,189.9 760.4,196.1 762.3,201.7 766.0,201.7 767.9,206.7 771.6,208.0 774.5,211.3 772.2,214.2 769.8,217.3 766.0,219.8 764.1,223.6 761.0,224.2 758.5,222.3 756.7,227.3 753.6,231.0 749.8,233.5 747.3,237.3 746.1,242.2 745.7,247.4 741.7,242.2 740.0,236.8 738.3,231.4 736.6,226.1 734.8,220.4Z" fill="#000"/></g>
<g stroke="#80706f" stroke-width="0.5" stroke-linejoin="round">
<path d="M236.5,158.6 240.7,159.7 245.0,160.8 249.2,161.9 253.5,163.0 257.8,164.0 262.1,165.0 266.4,166.0 270.7,167.0 275.0,168.0 279.3,169.0 283.6,169.9 287.9,170.8 286.5,176.9 285.0,183.0 283.5,189.2 282.1,195.3 280.6,201.5 279.1,207.6 278.8,214.0 274.8,213.2 270.7,212.3 266.7,211.4 262.7,210.5 258.7,209.6 255.6,209.5 252.6,209.4 247.8,209.9 243.0,210.5 239.7,209.5 236.3,208.6 231.6,207.2 227.9,208.1 224.4,206.7 221.9,203.9 222.3,199.3 220.0,197.0 216.3,194.6 213.0,193.9 214.0,190.0 214.7,185.5 216.7,183.9 214.9,180.7 215.4,173.3 215.1,169.3 214.9,165.4 216.6,162.1 219.5,164.4 223.3,167.2 226.0,168.1 228.8,169.1 232.1,169.5 233.2,170.9 231.6,174.4 227.9,177.9 226.2,180.3 230.0,177.5 232.2,176.2 231.3,179.0 228.5,181.6 227.5,184.0 229.0,184.9 231.6,183.0 234.2,181.2 235.2,175.1 236.5,172.3 236.1,168.1 237.0,165.3 236.8,162.1ZM231.2,161.9 233.5,161.2 235.8,162.6 235.4,164.9 232.6,165.4 231.2,164.0Z" fill="#fba19b"/>
<path d="M213.0,193.9 216.3,194.6 220.0,197.0 222.3,199.3 221.9,203.9 224.4,206.7 227.9,208.1 231.6,207.2 236.3,208.6 239.7,209.5 243.0,210.5 247.8,209.9 252.6,209.4 255.6,209.5 258.7,209.6 262.7,210.5 266.7,211.4 270.7,212.3 274.8,213.2 278.8,214.0 281.2,222.1 278.5,226.0 275.7,230.0 270.5,236.5 272.7,240.7 270.3,245.0 268.7,251.6 267.1,258.2 265.5,264.8 263.9,271.4 258.8,270.3 253.7,269.2 248.6,268.1 243.5,266.9 238.4,265.8 233.3,264.6 228.6,263.4 223.8,262.3 219.0,261.1 214.2,259.8 209.5,258.6 204.7,257.4 200.0,256.1 195.2,254.8 190.5,253.4 190.5,248.8 190.8,244.7 191.0,240.6 193.2,238.7 196.3,233.4 199.4,228.1 201.6,222.5 203.8,217.0 206.5,210.7 209.1,204.5 211.0,199.2Z" fill="#fba19b"/>
<path d="M190.5,253.4 195.2,254.8 200.0,256.1 204.7,257.4 209.5,258.6 214.2,259.8 219.0,261.1 223.8,262.3 228.6,263.4 233.3,264.6 231.4,271.7 229.4,278.9 227.4,286.0 225.4,293.2 223.4,300.3 221.5,307.5 225.3,313.9 229.2,320.2 233.1,326.6 237.1,333.0 241.2,339.3 245.4,345.6 249.6,351.9 253.9,358.2 258.2,364.4 262.6,370.6 267.1,376.8 267.0,379.0 268.0,385.2 270.5,387.8 265.2,392.8 261.3,399.5 262.4,405.6 258.9,409.1 253.0,408.6 247.2,408.1 241.3,407.5 235.4,407.0 229.6,406.4 229.3,401.6 228.2,397.3 227.1,393.0 222.4,387.5 219.1,386.1 219.0,381.8 215.1,380.1 211.3,378.4 208.8,374.1 203.5,372.5 198.2,370.9 197.0,368.3 198.5,361.1 196.9,356.2 194.8,351.2 192.7,346.1 191.5,341.2 190.3,336.4 192.8,334.0 191.2,331.3 187.9,326.6 188.7,322.2 189.5,317.8 185.5,313.7 186.3,309.3 183.9,304.1 181.6,298.8 182.4,294.5 183.2,290.1 183.5,282.4 181.3,275.0 186.1,269.2 187.7,265.0 189.3,260.8ZM198.0,377.3 201.5,376.4 205.0,377.3 201.5,378.2ZM203.0,389.5 204.0,388.7 205.0,389.5 204.0,390.3ZM215.0,391.5 216.2,389.9 217.4,391.5 216.2,393.1ZM213.5,396.5 214.5,395.3 215.5,396.5 214.5,397.7Z" fill="#fba19b"/>
<path d="M233.3,264.6 238.4,265.8 243.5,266.9 248.6,268.1 253.7,269.2 258.8,270.3 263.9,271.4 269.1,272.4 274.2,273.4 279.4,274.4 284.6,275.4 289.8,276.4 295.0,277.3 293.4,284.5 291.9,291.7 290.4,299.0 288.9,306.2 287.4,313.4 285.9,320.6 284.4,327.8 282.9,335.0 281.3,342.2 279.8,349.4 278.6,355.1 277.4,360.8 273.3,360.9 269.1,360.9 269.4,362.4 269.0,369.8 267.1,376.8 262.6,370.6 258.2,364.4 253.9,358.2 249.6,351.9 245.4,345.6 241.2,339.3 237.1,333.0 233.1,326.6 229.2,320.2 225.3,313.9 221.5,307.5 223.4,300.3 225.4,293.2 227.4,286.0 229.4,278.9 231.4,271.7Z" fill="#f9bdb9"/>
<path d="M287.9,170.8 292.5,171.7 297.0,172.7 295.4,179.8 293.8,187.0 294.5,191.3 295.3,195.6 298.5,199.2 301.2,204.9 303.5,207.2 305.8,209.5 302.8,216.5 303.0,220.3 300.5,225.1 302.3,226.1 306.7,224.7 308.1,229.0 309.5,233.4 309.3,237.1 312.7,243.7 313.9,245.2 317.0,244.3 320.0,243.4 324.0,244.0 328.0,244.6 329.4,242.6 332.4,246.5 331.1,253.6 329.9,260.8 328.7,268.0 327.4,275.2 326.2,282.3 321.0,281.6 315.8,280.8 310.6,279.9 305.3,279.1 300.1,278.2 295.0,277.3 289.8,276.4 284.6,275.4 279.4,274.4 274.2,273.4 269.1,272.4 263.9,271.4 265.5,264.8 267.1,258.2 268.7,251.6 270.3,245.0 272.7,240.7 270.5,236.5 275.7,230.0 278.5,226.0 281.2,222.1 278.8,214.0 279.1,207.6 280.6,201.5 282.1,195.3 283.5,189.2 285.0,183.0 286.5,176.9Z" fill="#fba19b"/>
<path d="M297.0,172.7 301.6,173.6 306.2,174.5 310.9,175.4 315.5,176.2 320.2,177.0 324.8,177.8 329.5,178.6 334.2,179.4 338.9,180.1 343.5,180.8 348.2,181.5 352.9,182.2 357.6,182.8 362.3,183.5 367.0,184.1 371.7,184.6 376.4,185.2 381.1,185.7 385.8,186.2 390.5,186.7 395.3,187.1 400.0,187.6 404.7,188.0 409.4,188.4 408.8,194.7 408.3,201.1 407.7,207.4 407.1,213.8 406.5,220.2 405.9,226.6 405.3,233.0 404.7,239.8 404.1,246.7 399.0,246.3 394.0,245.9 388.9,245.4 383.9,244.9 378.9,244.4 373.8,243.9 368.8,243.3 363.8,242.8 358.7,242.2 353.7,241.5 348.7,240.9 343.7,240.2 338.7,239.5 333.7,238.8 333.0,242.6 332.4,246.5 329.4,242.6 328.0,244.6 324.0,244.0 320.0,243.4 317.0,244.3 313.9,245.2 312.7,243.7 309.3,237.1 309.5,233.4 308.1,229.0 306.7,224.7 302.3,226.1 300.5,225.1 303.0,220.3 302.8,216.5 305.8,209.5 303.5,207.2 301.2,204.9 298.5,199.2 295.3,195.6 294.5,191.3 293.8,187.0 295.4,179.8Z" fill="#fba19b"/>
<path d="M332.4,246.5 333.0,242.6 333.7,238.8 338.7,239.5 343.7,240.2 348.7,240.9 353.7,241.5 358.7,242.2 363.8,242.8 368.8,243.3 373.8,243.9 378.9,244.4 383.9,244.9 388.9,245.4 394.0,245.9 399.0,246.3 404.1,246.7 403.4,254.0 402.7,261.3 402.1,268.6 401.4,276.0 400.7,283.3 400.0,290.6 399.4,297.9 398.7,305.2 393.3,304.8 387.9,304.3 382.6,303.8 377.2,303.3 371.8,302.8 366.5,302.2 361.1,301.6 355.7,301.0 350.4,300.4 345.0,299.7 339.7,299.1 334.4,298.3 329.0,297.6 323.7,296.8 325.0,289.6 326.2,282.3 327.4,275.2 328.7,268.0 329.9,260.8 331.1,253.6Z" fill="#fba19b"/>
<path d="M295.0,277.3 300.1,278.2 305.3,279.1 310.6,279.9 315.8,280.8 321.0,281.6 326.2,282.3 325.0,289.6 323.7,296.8 329.0,297.6 334.4,298.3 339.7,299.1 345.0,299.7 344.0,307.0 342.9,314.3 341.8,321.5 340.7,328.8 339.6,336.0 338.5,343.3 337.4,350.5 336.3,357.7 330.6,357.0 325.0,356.3 319.3,355.5 313.6,354.7 308.0,353.9 302.3,353.0 296.7,352.2 291.1,351.3 285.4,350.3 279.8,349.4 281.3,342.2 282.9,335.0 284.4,327.8 285.9,320.6 287.4,313.4 288.9,306.2 290.4,299.0 291.9,291.7 293.4,284.5Z" fill="#f9bdb9"/>
<path d="M279.8,349.4 285.4,350.3 291.1,351.3 296.7,352.2 302.3,353.0 308.0,353.9 313.6,354.7 319.3,355.5 325.0,356.3 330.6,357.0 336.3,357.7 335.3,364.6 334.2,371.4 333.2,378.2 332.2,385.0 331.1,391.8 330.1,398.6 329.1,405.3 328.0,412.1 327.0,418.8 326.0,425.6 324.9,432.3 323.9,439.0 318.9,438.4 314.0,437.8 309.0,437.1 304.1,436.5 299.1,435.8 293.8,432.9 288.4,430.0 283.1,427.1 277.9,424.1 272.6,421.2 267.4,418.2 262.3,415.2 257.1,412.1 258.9,409.1 262.4,405.6 261.3,399.5 265.2,392.8 270.5,387.8 268.0,385.2 267.0,379.0 267.1,376.8 269.0,369.8 269.4,362.4 269.1,360.9 273.3,360.9 277.4,360.8 278.6,355.1Z" fill="#fba19b"/>
<path d="M345.0,299.7 350.4,300.4 355.7,301.0 361.1,301.6 366.5,302.2 371.8,302.8 377.2,303.3 382.6,303.8 387.9,304.3 393.3,304.8 398.7,305.2 404.1,305.6 409.5,306.0 414.8,306.3 420.2,306.7 419.7,314.0 419.2,321.3 418.7,328.6 418.2,335.9 417.7,343.2 417.2,350.5 416.8,357.7 416.3,365.0 410.8,364.7 405.3,364.3 400.0,364.0 394.6,363.6 389.3,363.2 384.0,362.7 378.7,362.3 373.4,361.8 368.1,361.3 362.8,360.7 357.5,360.2 352.2,359.6 346.9,359.0 341.6,358.4 336.3,357.7 337.4,350.5 338.5,343.3 339.6,336.0 340.7,328.8 341.8,321.5 342.9,314.3 344.0,307.0Z" fill="#e35b52"/>
<path d="M336.3,357.7 341.6,358.4 346.9,359.0 352.2,359.6 357.5,360.2 362.8,360.7 368.1,361.3 373.4,361.8 378.7,362.3 384.0,362.7 389.3,363.2 394.6,363.6 400.0,364.0 405.3,364.3 404.2,371.6 403.6,378.8 403.0,386.0 402.4,393.3 401.8,400.5 401.1,407.7 400.5,414.9 399.9,422.1 399.3,429.3 398.7,436.4 393.2,436.0 387.8,435.6 382.3,435.2 376.8,434.8 371.4,434.3 365.9,433.8 360.5,433.3 355.0,432.8 355.8,436.0 350.6,435.5 345.5,435.0 340.3,434.4 335.2,433.9 334.2,440.3 329.1,439.7 323.9,439.0 324.9,432.3 326.0,425.6 327.0,418.8 328.0,412.1 329.1,405.3 330.1,398.6 331.1,391.8 332.2,385.0 333.2,378.2 334.2,371.4 335.3,364.6Z" fill="#fba19b"/>
<path d="M409.4,188.4 414.0,188.7 418.6,189.0 423.3,189.4 427.9,189.6 432.5,189.9 437.1,190.1 441.7,190.4 446.3,190.6 451.0,190.7 455.6,190.9 460.2,191.0 464.8,191.1 469.4,191.2 474.1,191.3 474.6,197.1 475.1,203.0 476.3,208.1 477.4,213.2 477.6,217.6 477.8,222.0 478.7,226.4 479.7,230.8 480.0,236.1 475.0,236.0 470.1,236.0 465.1,235.9 460.1,235.8 455.1,235.6 450.1,235.5 445.1,235.3 440.2,235.1 435.2,234.9 430.2,234.6 425.2,234.3 420.3,234.0 415.3,233.7 410.3,233.3 405.3,233.0 405.9,226.6 406.5,220.2 407.1,213.8 407.7,207.4 408.3,201.1 408.8,194.7Z" fill="#f9bdb9"/>
<path d="M405.3,233.0 410.3,233.3 415.3,233.7 420.3,234.0 425.2,234.3 430.2,234.6 435.2,234.9 440.2,235.1 445.1,235.3 450.1,235.5 455.1,235.6 460.1,235.8 465.1,235.9 470.1,236.0 475.0,236.0 480.0,236.1 477.1,241.0 481.1,245.5 481.0,252.1 481.0,258.7 480.9,265.3 480.9,271.9 479.3,273.3 480.3,279.2 480.5,283.0 480.8,286.7 478.2,285.1 475.0,283.1 471.9,281.2 468.2,281.8 464.5,282.4 459.4,278.9 454.5,278.8 449.7,278.6 444.9,278.5 440.0,278.3 435.2,278.1 430.4,277.8 425.5,277.6 420.7,277.3 415.9,277.0 411.0,276.7 406.2,276.3 401.4,276.0 402.1,268.6 402.7,261.3 403.4,254.0 404.1,246.7 404.7,239.8Z" fill="#fba19b"/>
<path d="M401.4,276.0 406.2,276.3 411.0,276.7 415.9,277.0 420.7,277.3 425.5,277.6 430.4,277.8 435.2,278.1 440.0,278.3 444.9,278.5 449.7,278.6 454.5,278.8 459.4,278.9 464.5,282.4 468.2,281.8 471.9,281.2 475.0,283.1 478.2,285.1 480.8,286.7 482.9,293.9 484.4,299.8 486.6,305.6 487.1,313.0 488.0,314.7 491.0,319.6 493.1,323.2 487.8,323.2 482.5,323.2 477.2,323.2 471.9,323.1 466.7,323.1 461.4,323.0 456.1,322.8 450.8,322.7 445.6,322.5 440.3,322.3 435.0,322.1 429.7,321.8 424.5,321.6 419.2,321.3 419.7,314.0 420.2,306.7 414.8,306.3 409.5,306.0 404.1,305.6 398.7,305.2 399.4,297.9 400.0,290.6 400.7,283.3Z" fill="#e35b52"/>
<path d="M419.2,321.3 424.5,321.6 429.7,321.8 435.0,322.1 440.3,322.3 445.6,322.5 450.8,322.7 456.1,322.8 461.4,323.0 466.7,323.1 471.9,323.1 477.2,323.2 482.5,323.2 487.8,323.2 493.1,323.2 497.6,326.8 495.4,329.8 498.2,333.4 500.9,336.2 501.0,342.3 501.1,348.5 501.1,354.7 501.2,360.8 501.3,367.0 495.6,367.0 490.0,367.1 484.3,367.1 478.6,367.0 472.9,367.0 467.3,366.9 461.6,366.8 455.9,366.7 450.3,366.5 444.6,366.3 438.9,366.1 433.3,365.9 427.6,365.6 421.9,365.3 416.3,365.0 416.8,357.7 417.2,350.5 417.7,343.2 418.2,335.9 418.7,328.6Z" fill="#e0281c"/>
<path d="M416.3,365.0 421.9,365.3 427.6,365.6 433.3,365.9 438.9,366.1 444.6,366.3 450.3,366.5 455.9,366.7 461.6,366.8 467.3,366.9 472.9,367.0 478.6,367.0 484.3,367.1 490.0,367.1 495.6,367.0 501.3,367.0 501.4,374.3 502.2,379.6 503.1,384.9 503.9,390.2 503.8,396.6 503.8,403.0 503.7,409.3 503.6,415.7 498.7,414.0 493.9,412.3 487.9,412.8 484.3,413.5 480.7,414.2 474.7,411.3 471.1,412.7 466.9,412.2 462.7,411.8 460.4,408.4 454.4,408.0 450.9,406.8 447.3,405.6 441.5,404.0 438.0,401.5 438.3,394.5 438.6,387.5 439.0,380.5 439.3,373.4 434.3,373.2 429.3,373.0 424.3,372.7 419.2,372.5 414.2,372.2 409.2,371.9 404.2,371.6 405.3,364.3 410.8,364.7Z" fill="#e0281c"/>
<path d="M404.2,371.6 409.2,371.9 414.2,372.2 419.2,372.5 424.3,372.7 429.3,373.0 434.3,373.2 439.3,373.4 439.0,380.5 438.6,387.5 438.3,394.5 438.0,401.5 441.5,404.0 447.3,405.6 450.9,406.8 454.4,408.0 460.4,408.4 462.7,411.8 466.9,412.2 471.1,412.7 474.7,411.3 480.7,414.2 484.3,413.5 487.9,412.8 493.9,412.3 498.7,414.0 503.6,415.7 509.1,416.9 509.2,420.7 509.3,424.6 509.1,431.6 509.0,438.7 512.5,444.9 515.6,451.8 514.9,457.4 514.0,461.1 513.1,464.9 512.5,468.6 511.8,472.3 507.2,473.7 502.3,475.5 501.3,472.2 500.4,474.3 497.9,473.7 499.1,477.4 496.6,480.5 494.8,481.7 491.0,484.2 487.3,486.7 483.6,489.0 479.8,491.3 476.3,493.3 475.5,491.1 474.2,493.6 470.5,495.4 473.0,496.1 470.5,499.8 467.4,498.6 466.1,499.8 469.2,501.7 467.4,506.0 463.9,506.3 463.4,507.5 467.4,507.5 466.4,512.3 467.4,518.5 469.4,525.2 466.1,526.6 462.4,525.7 458.7,524.7 454.3,522.9 449.9,521.0 444.3,519.1 442.4,514.4 440.6,509.8 439.3,503.5 435.0,498.6 429.9,491.6 427.9,486.9 425.9,482.2 422.4,475.7 417.1,469.4 410.7,469.1 404.4,468.7 398.2,474.3 394.0,479.5 389.4,476.8 384.8,474.1 378.9,469.4 375.8,462.0 374.3,457.9 372.9,453.9 368.3,449.6 363.7,445.4 359.2,441.1 355.8,436.0 355.0,432.8 360.5,433.3 365.9,433.8 371.4,434.3 376.8,434.8 382.3,435.2 387.8,435.6 393.2,436.0 398.7,436.4 399.3,429.3 399.9,422.1 400.5,414.9 401.1,407.7 401.8,400.5 402.4,393.3 403.0,386.0 403.6,378.8Z" fill="#ab130b"/>
<path d="M480.0,236.1 479.7,230.8 478.7,226.4 477.8,222.0 477.6,217.6 477.4,213.2 476.3,208.1 475.1,203.0 474.6,197.1 474.1,191.3 478.0,191.3 482.0,191.3 485.9,191.3 489.9,191.3 493.8,191.3 493.8,185.7 496.6,186.6 498.1,191.2 499.1,195.3 502.9,196.1 506.7,196.9 510.5,196.8 514.4,196.7 517.3,198.8 520.2,200.9 524.6,202.4 529.0,203.9 532.4,202.8 535.7,201.7 539.6,202.4 543.5,203.2 547.4,203.9 543.2,206.4 539.0,208.8 535.3,212.3 531.5,215.8 527.8,219.6 524.0,223.4 522.2,224.8 522.3,228.9 522.4,233.0 519.6,236.4 516.7,239.8 518.4,244.9 518.3,249.0 518.1,253.0 523.3,255.8 528.7,260.7 534.1,266.4 535.1,270.7 530.2,270.9 525.3,271.1 520.4,271.3 515.4,271.5 510.5,271.6 505.6,271.7 500.6,271.8 495.7,271.8 490.8,271.9 485.8,271.9 480.9,271.9 480.9,265.3 481.0,258.7 481.0,252.1 481.1,245.5 477.1,241.0Z" fill="#fba19b"/>
<path d="M480.9,271.9 485.8,271.9 490.8,271.9 495.7,271.8 500.6,271.8 505.6,271.7 510.5,271.6 515.4,271.5 520.4,271.3 525.3,271.1 530.2,270.9 535.1,270.7 535.6,276.6 537.0,281.7 542.0,285.0 547.5,290.7 547.3,295.1 544.4,299.7 541.2,301.3 538.1,302.9 540.0,307.3 538.6,311.7 535.4,316.6 531.8,313.5 527.0,313.7 522.1,313.9 517.2,314.1 512.4,314.3 507.5,314.4 502.6,314.5 497.8,314.6 492.9,314.7 488.0,314.7 487.1,313.0 486.6,305.6 484.4,299.8 482.9,293.9 480.8,286.7 480.5,283.0 480.3,279.2 479.3,273.3Z" fill="#e35b52"/>
<path d="M488.0,314.7 492.9,314.7 497.8,314.6 502.6,314.5 507.5,314.4 512.4,314.3 517.2,314.1 522.1,313.9 527.0,313.7 531.8,313.5 535.4,316.6 534.6,319.3 536.1,325.8 539.8,328.9 543.6,332.1 545.6,337.8 550.2,340.5 550.5,344.9 550.8,349.3 555.0,352.3 559.2,355.4 559.5,360.5 564.1,364.9 563.7,369.8 560.4,372.1 560.0,375.1 558.3,379.6 554.6,379.8 550.9,380.0 550.4,372.7 545.0,373.0 539.5,373.2 534.1,373.4 528.6,373.6 523.2,373.8 517.7,374.0 512.3,374.1 506.9,374.2 501.4,374.3 501.3,367.0 501.2,360.8 501.1,354.7 501.1,348.5 501.0,342.3 500.9,336.2 498.2,333.4 495.4,329.8 497.6,326.8 493.1,323.2 491.0,319.6Z" fill="#e0281c"/>
<path d="M501.4,374.3 506.9,374.2 512.3,374.1 517.7,374.0 523.2,373.8 528.6,373.6 534.1,373.4 539.5,373.2 545.0,373.0 550.4,372.7 550.9,380.0 554.6,379.8 558.3,379.6 559.3,381.0 556.2,386.2 554.8,391.4 552.6,394.6 550.1,400.4 546.4,407.8 544.9,413.7 543.4,418.1 544.0,423.8 538.2,424.0 532.5,424.2 526.7,424.3 520.9,424.4 515.1,424.5 509.3,424.6 509.2,420.7 509.1,416.9 503.6,415.7 503.7,409.3 503.8,403.0 503.8,396.6 503.9,390.2 503.1,384.9 502.2,379.6Z" fill="#e0281c"/>
<path d="M509.3,424.6 515.1,424.5 520.9,424.4 526.7,424.3 532.5,424.2 538.2,424.0 544.0,423.8 545.1,428.7 547.3,433.5 544.2,438.7 541.1,444.9 539.6,449.9 540.1,453.4 545.6,453.2 551.0,453.1 556.5,452.9 561.9,452.7 564.1,456.1 565.6,460.8 568.3,461.4 567.9,462.0 566.0,464.2 562.9,466.7 563.5,468.0 567.3,466.7 567.9,469.8 564.8,473.0 567.3,474.8 571.0,475.4 573.5,478.6 569.8,480.4 566.0,476.1 562.3,474.8 560.4,477.3 557.9,478.6 554.8,477.3 551.1,480.4 547.3,478.6 543.6,476.7 541.1,473.6 538.6,474.2 537.4,471.1 534.3,471.7 532.4,474.6 526.2,473.0 521.2,471.7 516.2,472.1 511.8,472.3 512.5,468.6 513.1,464.9 514.0,461.1 514.9,457.4 515.6,451.8 512.5,444.9 509.0,438.7 509.1,431.6Z" fill="#e0281c"/>
<path d="M535.1,270.7 534.1,266.4 528.7,260.7 523.3,255.8 518.1,253.0 518.3,249.0 518.4,244.9 516.7,239.8 519.6,236.4 522.4,233.0 522.3,228.9 522.2,224.8 524.0,223.4 527.6,222.6 531.2,221.7 534.7,220.8 536.7,219.9 537.4,224.3 541.4,224.6 545.0,226.3 548.6,228.0 552.4,229.6 556.1,231.1 560.2,232.1 564.2,233.1 568.0,239.8 569.6,244.4 568.0,248.5 566.3,252.3 569.2,248.5 572.9,241.7 575.8,235.5 577.9,233.6 577.1,239.2 574.2,245.4 572.1,252.3 570.7,259.8 570.4,265.4 570.1,271.0 570.1,275.9 571.8,283.1 566.9,283.5 561.9,283.8 556.9,284.2 551.9,284.4 547.0,284.7 542.0,285.0 537.0,281.7 535.6,276.6Z" fill="#fba19b"/>
<path d="M542.0,285.0 547.0,284.7 551.9,284.4 556.9,284.2 561.9,283.8 566.9,283.5 571.8,283.1 573.3,287.8 574.8,292.5 575.8,294.6 576.4,301.5 577.1,308.4 577.7,315.3 578.4,322.2 579.0,329.0 578.7,334.2 580.5,341.4 576.4,344.7 575.6,352.1 575.2,357.2 571.7,362.6 566.5,361.5 564.1,364.9 559.5,360.5 559.2,355.4 555.0,352.3 550.8,349.3 550.5,344.9 550.2,340.5 545.6,337.8 543.6,332.1 539.8,328.9 536.1,325.8 534.6,319.3 535.4,316.6 538.6,311.7 540.0,307.3 538.1,302.9 541.2,301.3 544.4,299.7 547.3,295.1 547.5,290.7Z" fill="#e0281c"/>
<path d="M575.8,294.6 579.3,295.1 583.2,293.1 587.5,292.9 591.7,292.7 596.0,292.4 600.3,292.2 604.6,291.9 605.3,298.2 606.1,304.6 606.9,310.9 607.7,317.2 608.4,323.6 609.2,329.9 606.4,333.1 603.5,336.4 600.4,343.0 599.2,347.1 594.5,345.4 591.5,349.3 586.0,351.3 580.2,349.5 575.6,352.1 576.4,344.7 580.5,341.4 578.7,334.2 579.0,329.0 578.4,322.2 577.7,315.3 577.1,308.4 576.4,301.5Z" fill="#e0281c"/>
<path d="M583.2,293.1 586.1,287.8 586.8,282.6 587.6,277.3 586.0,272.3 584.5,267.3 582.9,262.2 583.5,257.3 584.2,252.3 587.9,246.7 590.4,242.9 592.9,239.2 594.7,235.5 595.4,233.0 597.8,232.4 602.2,234.2 607.2,236.1 612.2,240.1 613.7,243.6 613.2,251.0 610.7,256.6 609.1,259.8 609.9,262.2 612.8,262.0 615.3,256.6 619.6,254.8 622.4,259.8 623.8,263.5 625.3,267.2 626.9,269.9 626.9,275.8 623.3,280.0 621.2,284.0 618.8,289.8 614.1,290.5 609.3,291.2 604.6,291.9 600.3,292.2 596.0,292.4 591.7,292.7 587.5,292.9ZM541.4,224.6 546.2,221.8 548.7,220.5 551.1,219.3 554.3,216.8 557.4,214.3 561.1,210.6 565.5,209.9 563.0,212.2 560.1,216.8 558.6,220.5 561.7,218.9 566.1,221.1 569.8,223.1 574.8,223.9 578.5,222.4 582.3,220.5 586.0,219.9 589.8,219.3 592.2,217.7 593.2,221.1 597.2,221.8 601.0,220.5 602.8,224.9 605.7,227.4 608.4,227.0 605.9,228.4 602.2,228.6 599.7,229.1 597.2,229.6 594.7,228.0 589.8,228.0 587.3,229.1 584.8,230.2 581.0,232.6 578.3,233.2 575.4,233.2 572.9,238.0 569.6,244.4 568.0,239.8 564.2,233.1 560.2,232.1 556.1,231.1 552.4,229.6 548.6,228.0 545.0,226.3ZM549.9,204.7 553.0,202.5 557.4,200.0 558.0,200.6 554.3,203.5 550.9,205.6Z" fill="#fba19b"/>
<path d="M604.6,291.9 609.3,291.2 614.1,290.5 618.8,289.8 623.0,291.0 627.2,292.2 630.9,291.7 634.6,291.2 637.8,290.8 641.1,287.7 644.3,284.6 649.0,282.0 650.1,288.5 651.3,295.0 652.4,301.5 651.6,305.2 651.3,310.1 651.1,315.0 648.6,318.3 646.1,321.6 642.9,325.8 640.6,329.1 639.1,333.7 635.2,336.9 630.0,333.0 626.2,334.0 622.4,335.1 616.6,333.5 612.7,329.5 609.2,329.9 608.4,323.6 607.7,317.2 606.9,310.9 606.1,304.6 605.3,298.2Z" fill="#e0281c"/>
<path d="M575.6,352.1 580.2,349.5 586.0,351.3 591.5,349.3 594.5,345.4 599.2,347.1 600.4,343.0 603.5,336.4 606.4,333.1 609.2,329.9 612.7,329.5 616.6,333.5 622.4,335.1 626.2,334.0 630.0,333.0 635.2,336.9 635.7,340.9 640.0,347.0 644.1,348.8 640.6,352.9 637.0,357.0 631.9,360.9 626.8,364.8 621.3,365.4 615.7,365.9 610.1,366.4 604.6,366.9 599.0,367.3 593.4,367.8 587.8,368.2 582.2,368.5 576.6,368.9 576.8,371.0 571.4,371.4 565.9,371.8 560.4,372.1 563.7,369.8 564.1,364.9 566.5,361.5 571.7,362.6 575.2,357.2Z" fill="#e0281c"/>
<path d="M560.4,372.1 565.9,371.8 571.4,371.4 576.8,371.0 576.6,368.9 582.2,368.5 587.8,368.2 593.4,367.8 599.0,367.3 604.6,366.9 610.1,366.4 615.7,365.9 621.3,365.4 626.8,364.8 632.5,364.2 638.2,363.5 643.9,362.9 649.6,362.1 647.1,369.7 643.8,370.9 640.5,372.0 635.3,376.4 632.0,378.1 628.7,379.8 625.6,382.7 622.7,389.0 617.7,389.5 612.7,390.0 607.6,390.5 602.6,391.0 597.5,391.5 592.5,391.9 587.4,392.3 582.4,392.7 577.3,393.1 572.4,393.4 567.5,393.7 562.5,394.0 557.6,394.3 552.6,394.6 554.8,391.4 556.2,386.2 559.3,381.0 558.3,379.6 560.0,375.1Z" fill="#e0281c"/>
<path d="M552.6,394.6 557.6,394.3 562.5,394.0 567.5,393.7 572.4,393.4 577.3,393.1 578.6,394.3 578.5,401.6 578.5,408.9 578.4,416.1 578.3,423.4 578.2,430.6 578.1,437.8 578.6,443.6 579.2,449.3 579.8,455.0 580.3,460.8 577.8,460.7 574.7,460.3 571.0,460.9 568.3,461.4 565.6,460.8 564.1,456.1 561.9,452.7 556.5,452.9 551.0,453.1 545.6,453.2 540.1,453.4 539.6,449.9 541.1,444.9 544.2,438.7 547.3,433.5 545.1,428.7 544.0,423.8 543.4,418.1 544.9,413.7 546.4,407.8 550.1,400.4Z" fill="#e0281c"/>
<path d="M577.3,393.1 582.4,392.7 587.4,392.3 592.5,391.9 597.5,391.5 602.6,391.0 607.6,390.5 609.4,396.6 611.2,402.6 612.9,408.6 614.7,414.6 616.5,420.6 618.1,424.6 619.7,428.6 619.9,434.4 620.0,440.1 622.2,447.2 616.8,447.8 611.5,448.4 606.2,448.9 600.9,449.5 595.5,450.0 590.2,450.5 589.9,451.8 592.9,454.9 592.4,459.6 589.7,460.2 586.8,460.5 586.4,456.1 585.4,455.3 584.5,456.1 583.7,460.8 580.3,460.8 579.8,455.0 579.2,449.3 578.6,443.6 578.1,437.8 578.2,430.6 578.3,423.4 578.4,416.1 578.5,408.9 578.5,401.6 578.6,394.3Z" fill="#e0281c"/>
<path d="M607.6,390.5 612.7,390.0 617.7,389.5 622.7,389.0 627.4,388.4 632.1,387.8 636.8,387.2 634.6,391.9 637.9,393.7 644.7,399.5 648.9,403.4 653.2,407.2 660.3,413.6 663.4,419.1 666.5,424.5 670.5,426.4 668.3,431.6 667.2,439.0 665.7,445.6 659.8,446.9 658.8,451.8 658.0,449.4 652.1,449.6 646.3,449.9 640.5,450.1 634.7,450.3 628.9,450.5 623.1,450.6 622.2,447.2 620.0,440.1 619.9,434.4 619.7,428.6 618.1,424.6 616.5,420.6 614.7,414.6 612.9,408.6 611.2,402.6 609.4,396.6Z" fill="#e0281c"/>
<path d="M592.4,459.6 592.9,454.9 589.9,451.8 590.2,450.5 595.5,450.0 600.9,449.5 606.2,448.9 611.5,448.4 616.8,447.8 622.2,447.2 623.1,450.6 628.9,450.5 634.7,450.3 640.5,450.1 646.3,449.9 652.1,449.6 658.0,449.4 658.8,451.8 659.8,446.9 665.7,445.6 666.7,447.5 668.9,452.5 671.0,457.5 674.1,463.1 677.3,468.7 682.5,474.9 682.9,477.1 686.0,483.1 689.1,488.9 692.2,494.8 694.4,501.2 694.9,507.3 695.3,513.3 693.0,517.9 688.4,522.6 683.7,523.5 681.1,519.8 678.5,516.0 674.2,514.1 672.3,510.0 667.3,506.0 666.1,501.1 664.8,502.3 661.8,498.1 658.8,493.8 658.0,491.7 659.8,489.2 658.6,488.0 656.7,489.2 654.6,484.9 655.0,481.1 655.5,477.4 653.0,471.8 649.9,470.5 646.1,468.0 641.1,463.7 635.5,459.3 631.8,460.0 628.7,462.4 625.6,464.9 622.5,466.2 619.3,465.6 615.1,460.8 609.8,459.1 604.6,457.4 598.5,458.5ZM676.3,532.8 680.0,529.5 682.8,529.5 681.9,531.4 677.2,533.7Z" fill="#e35b52"/>
<path d="M670.5,426.4 666.5,424.5 663.4,419.1 660.3,413.6 653.2,407.2 648.9,403.4 644.7,399.5 637.9,393.7 634.6,391.9 636.8,387.2 640.7,385.3 644.6,383.3 649.9,382.9 655.1,382.4 660.4,381.9 660.7,383.4 661.8,382.5 664.3,386.3 668.6,385.7 672.9,385.2 677.2,384.6 682.3,388.0 687.5,391.4 692.6,394.8 688.5,401.4 686.1,407.7 683.1,411.4 680.2,415.2 677.4,418.5 674.6,421.9Z" fill="#e0281c"/>
<path d="M622.7,389.0 625.6,382.7 628.7,379.8 632.0,378.1 635.3,376.4 640.5,372.0 643.8,370.9 647.1,369.7 649.6,362.1 655.1,361.4 660.5,360.7 666.0,359.9 671.4,359.1 676.9,358.3 682.3,357.4 687.8,356.5 693.2,355.6 698.6,354.7 704.0,353.8 709.4,352.8 714.8,351.8 715.4,354.9 713.6,356.8 709.8,359.3 706.7,358.0 708.0,361.1 711.4,360.3 714.8,359.4 717.3,360.9 716.7,364.9 714.8,366.4 711.1,368.0 705.5,368.6 711.1,369.9 712.9,371.1 709.8,373.0 706.7,374.2 709.8,376.1 711.7,373.8 714.4,377.1 713.8,379.8 709.8,381.3 705.5,383.3 701.7,386.7 700.1,389.8 699.9,393.3 697.4,394.1 692.6,394.8 687.5,391.4 682.3,388.0 677.2,384.6 672.9,385.2 668.6,385.7 664.3,386.3 661.8,382.5 660.7,383.4 660.4,381.9 655.1,382.4 649.9,382.9 644.6,383.3 640.7,385.3 636.8,387.2 632.1,387.8 627.4,388.4Z" fill="#ab130b"/>
<path d="M649.6,362.1 643.9,362.9 638.2,363.5 632.5,364.2 626.8,364.8 631.9,360.9 637.0,357.0 640.6,352.9 644.1,348.8 648.7,350.3 653.4,351.8 658.1,349.3 662.8,346.7 662.3,343.8 664.8,337.1 667.2,330.4 672.5,331.1 675.2,325.8 677.1,320.6 678.9,315.3 682.1,316.9 685.4,318.5 685.5,316.8 689.9,316.8 693.9,319.9 695.1,323.4 693.1,327.1 697.4,329.9 701.7,332.1 706.3,333.6 706.7,336.3 702.4,335.5 707.3,338.8 708.0,342.9 703.0,343.8 709.2,346.1 712.9,347.5 714.8,351.8 709.4,352.8 704.0,353.8 698.6,354.7 693.2,355.6 687.8,356.5 682.3,357.4 676.9,358.3 671.4,359.1 666.0,359.9 660.5,360.7 655.1,361.4ZM709.6,329.9 711.1,334.8 712.1,339.8 712.6,344.8 713.1,345.7 714.2,339.8 715.1,333.6 715.4,329.2 712.5,329.6Z" fill="#e0281c"/>
<path d="M644.1,348.8 640.0,347.0 635.7,340.9 635.2,336.9 639.1,333.7 640.6,329.1 642.9,325.8 646.1,321.6 648.6,318.3 651.1,315.0 651.3,310.1 651.6,305.2 652.4,301.5 653.5,308.2 654.7,314.9 658.5,314.3 662.2,313.7 665.9,313.1 666.6,316.8 667.3,320.5 671.0,316.0 674.1,313.6 677.9,312.9 679.9,311.8 685.5,316.8 685.4,318.5 682.1,316.9 678.9,315.3 677.1,320.6 675.2,325.8 672.5,331.1 667.2,330.4 664.8,337.1 662.3,343.8 662.8,346.7 658.1,349.3 653.4,351.8 648.7,350.3Z" fill="#fba19b"/>
<path d="M665.9,313.1 666.6,316.8 667.3,320.5 671.0,316.0 674.1,313.6 677.9,312.9 679.9,311.8 685.5,316.8 689.9,316.8 693.9,319.9 695.1,323.4 693.1,327.1 697.4,329.9 701.7,332.1 706.3,333.6 703.8,327.6 701.7,322.4 701.1,318.6 700.5,314.9 703.0,308.7 703.6,307.4 704.5,308.7 703.2,314.9 704.3,319.0 705.5,323.0 708.6,326.1 709.6,329.9 712.5,329.6 715.4,329.2 716.8,322.6 713.6,323.1 710.4,323.6 709.0,317.1 707.5,310.5 706.1,303.9 701.1,305.2 696.1,306.4 691.1,307.6 686.1,308.7 681.1,309.9 676.0,311.0 671.0,312.1Z" fill="#e35b52"/>
<path d="M706.1,303.9 707.5,310.5 709.0,317.1 710.4,323.6 713.6,323.1 716.8,322.6 717.3,318.7 715.4,314.9 712.3,311.8 709.8,308.7 708.0,303.2 707.0,303.0Z" fill="#f9bdb9"/>
<path d="M656.2,276.5 652.6,279.2 649.0,282.0 650.1,288.5 651.3,295.0 652.4,301.5 653.5,308.2 654.7,314.9 658.5,314.3 662.2,313.7 665.9,313.1 671.0,312.1 676.0,311.0 681.1,309.9 686.1,308.7 691.1,307.6 696.1,306.4 701.1,305.2 706.1,303.9 707.0,303.0 708.0,303.2 712.0,301.2 715.1,297.6 711.0,294.6 708.6,291.3 708.6,286.8 711.4,280.0 706.9,277.3 702.5,272.1 697.5,273.1 692.4,274.1 687.4,275.1 682.3,276.0 677.2,277.0 672.1,277.9 667.1,278.8 662.0,279.6 656.9,280.4Z" fill="#e0281c"/>
<path d="M711.4,280.0 716.2,281.7 721.0,283.4 720.6,288.8 719.1,291.4 721.9,291.5 722.6,296.7 723.3,301.9 721.4,307.6 718.5,308.7 717.5,314.7 714.8,310.9 711.7,308.7 709.8,305.6 708.0,303.2 712.0,301.2 715.1,297.6 711.0,294.6 708.6,291.3 708.6,286.8Z" fill="#e35b52"/>
<path d="M656.2,276.5 659.3,272.8 662.3,269.0 663.3,265.9 660.8,261.0 664.3,259.8 667.7,258.6 671.2,257.4 676.4,257.2 681.6,257.0 686.1,253.4 688.8,251.4 687.7,246.3 685.0,243.8 687.5,240.7 689.9,237.5 693.5,230.7 696.0,229.1 698.4,227.4 703.0,226.4 707.6,225.4 712.1,224.4 713.7,231.6 715.2,238.9 718.4,245.1 719.7,250.9 721.1,256.7 721.2,262.0 721.3,267.3 722.7,272.7 724.0,278.1 722.4,281.5 723.6,282.8 721.7,286.3 721.0,283.4 716.2,281.7 711.4,280.0 706.9,277.3 702.5,272.1 697.5,273.1 692.4,274.1 687.4,275.1 682.3,276.0 677.2,277.0 672.1,277.9 667.1,278.8 662.0,279.6 656.9,280.4ZM721.1,288.5 722.6,286.7 727.4,283.8 729.9,282.1 732.4,280.4 736.7,278.3 738.8,278.1 738.0,279.6 733.6,282.9 730.5,284.6 727.4,286.3 724.6,287.8 721.8,289.3Z" fill="#e35b52"/>
<path d="M723.6,282.8 722.4,281.5 724.0,278.1 722.7,272.7 721.3,267.3 725.9,266.4 730.4,265.4 735.0,264.5 739.6,263.5 740.3,268.6 741.1,273.6 737.5,274.9 734.0,276.2 730.4,277.4 727.0,280.1Z" fill="#fba19b"/>
<path d="M741.1,273.6 740.3,268.6 739.6,263.5 743.2,262.8 744.4,267.4 745.1,271.5 742.9,272.6Z" fill="#fba19b"/>
<path d="M721.3,267.3 721.2,262.0 721.1,256.7 725.2,255.9 729.3,255.0 733.4,254.2 737.6,253.3 741.7,252.4 744.8,249.7 746.7,250.2 747.9,251.8 747.3,254.3 745.7,256.8 747.6,258.4 749.5,260.5 751.3,263.4 752.3,265.3 754.8,264.6 757.5,262.6 758.3,261.1 757.0,259.5 755.3,258.4 754.8,258.9 756.6,260.3 757.9,261.8 759.5,263.4 758.9,265.7 756.0,266.4 752.9,267.6 751.3,268.9 749.5,269.6 747.3,270.5 745.1,271.5 744.4,267.4 743.2,262.8 739.6,263.5 735.0,264.5 730.4,265.4 725.9,266.4ZM751.7,269.6 753.5,268.9 754.2,270.1 752.3,270.9ZM758.3,268.9 760.4,268.6 760.8,270.1 758.8,270.1Z" fill="#fba19b"/>
<path d="M712.1,224.4 716.6,223.3 721.1,222.2 725.6,221.1 730.1,220.0 731.1,227.5 728.2,234.3 728.2,240.4 727.6,248.2 729.3,255.0 725.2,255.9 721.1,256.7 719.7,250.9 718.4,245.1 715.2,238.9 713.7,231.6Z" fill="#f9bdb9"/>
<path d="M730.1,220.0 730.1,216.2 733.0,214.7 734.8,220.4 736.6,226.1 738.3,231.4 740.0,236.8 741.7,242.2 745.7,247.4 746.7,250.2 744.8,249.7 741.7,252.4 737.6,253.3 733.4,254.2 729.3,255.0 727.6,248.2 728.2,240.4 728.2,234.3 731.1,227.5Z" fill="#f9bdb9"/>
<path d="M733.0,214.7 734.6,213.6 736.7,208.0 736.6,203.9 736.4,199.9 737.4,192.4 738.5,188.0 739.6,183.7 741.1,180.0 743.0,180.2 743.6,182.4 746.7,181.2 749.8,179.0 753.6,179.9 756.7,183.7 758.5,189.9 760.4,196.1 762.3,201.7 766.0,201.7 767.9,206.7 771.6,208.0 774.5,211.3 772.2,214.2 769.8,217.3 766.0,219.8 764.1,223.6 761.0,224.2 758.5,222.3 756.7,227.3 753.6,231.0 749.8,233.5 747.3,237.3 746.1,242.2 745.7,247.4 741.7,242.2 740.0,236.8 738.3,231.4 736.6,226.1 734.8,220.4Z" fill="#f9bdb9"/>
<path d="M714.8,351.8 718.5,356.8 722.3,362.4 723.8,369.2 721.2,371.4 718.5,373.6 714.8,378.0 713.8,379.8" fill="none"/>
<path d="M684.7,530.5 690.2,526.3 694.0,520.7 695.8,516.0" fill="none"/>
<path d="M189.0,314.2 190.9,313.3 192.2,314.5 190.9,317.9 191.4,320.4 192.7,323.5" fill="none"/>
</g>
<text x="30.35" y="74.8" font-size="45.9" font-weight='bold' fill="#ffffff" textLength="107.67" lengthAdjust="spacingAndGlyphs">2019</text>
<text x="145.63" y="74.8" font-size="45.9" font-weight='bold' fill="#ffffff" textLength="401.59" lengthAdjust="spacingAndGlyphs">BILLION-DOLLAR</text>
<text x="559.56" y="74.8" font-size="45.9" font-weight='bold' fill="#ffffff" textLength="254.68" lengthAdjust="spacingAndGlyphs">DISASTERS</text>
<text x="31.86" y="116.0" font-size="36.2" fill="#7d8db3" textLength="172.24" lengthAdjust="spacingAndGlyphs" stroke="#7d8db3" stroke-width="0.5">WEATHER</text>
<text x="213.68" y="116.0" font-size="36.2" fill="#7d8db3" textLength="78.07" lengthAdjust="spacingAndGlyphs" stroke="#7d8db3" stroke-width="0.5">AND</text>
<text x="299.47" y="116.0" font-size="36.2" fill="#7d8db3" textLength="151.52" lengthAdjust="spacingAndGlyphs" stroke="#7d8db3" stroke-width="0.5">CLIMATE</text>
<text x="460.02" y="116.0" font-size="36.2" fill="#7d8db3" textLength="145.36" lengthAdjust="spacingAndGlyphs" stroke="#7d8db3" stroke-width="0.5">EVENTS</text>
<text x="612.20" y="116.0" font-size="36.2" fill="#7d8db3" textLength="105.51" lengthAdjust="spacingAndGlyphs" stroke="#7d8db3" stroke-width="0.5">SINCE</text>
<text x="728.32" y="116.0" font-size="36.2" fill="#7d8db3" textLength="85.66" lengthAdjust="spacingAndGlyphs" stroke="#7d8db3" stroke-width="0.5">1980</text>
<g>
<rect x="71" y="259.1" width="12.6" height="48.5" fill="#ab130b"/>
<rect x="71" y="312.6" width="12.6" height="48.5" fill="#e0281c"/>
<rect x="71" y="366.2" width="12.6" height="48.5" fill="#e35b52"/>
<rect x="71" y="419.6" width="12.6" height="48.5" fill="#fba19b"/>
<rect x="71" y="473.6" width="12.6" height="48.5" fill="#f9bdb9"/>
</g>
<text x="89.05" y="321.1" font-size="37.5" font-weight='bold' fill="#8898bb" textLength="30.35" lengthAdjust="spacingAndGlyphs">80</text>
<text x="88.91" y="379.8" font-size="37.5" font-weight='bold' fill="#8898bb" textLength="30.49" lengthAdjust="spacingAndGlyphs">60</text>
<text x="89.50" y="433.3" font-size="37.5" font-weight='bold' fill="#8898bb" textLength="29.89" lengthAdjust="spacingAndGlyphs">40</text>
<text x="88.97" y="482.7" font-size="37.5" font-weight='bold' fill="#8898bb" textLength="30.43" lengthAdjust="spacingAndGlyphs">20</text>
<g font-size="12.5" fill="#ffffff">
<text x="32.5" y="582.7" textLength="406" lengthAdjust="spacingAndGlyphs">1980-2019 Billion-dollar weather and climate disasters (CPI-adjusted).</text>
<text x="32.5" y="597.2" textLength="120" lengthAdjust="spacingAndGlyphs">Source: NOAA/NCEI</text>
<text x="32.5" y="610.7" textLength="123.5" lengthAdjust="spacingAndGlyphs">Data as of 11/5/2019</text>
</g>
<g font-size="15" font-weight="bold" fill="#ffffff">
<text x="593" y="608.2" textLength="78" lengthAdjust="spacingAndGlyphs">CLIMATE</text>
<text x="729" y="608.2" textLength="83" lengthAdjust="spacingAndGlyphs">CENTRAL</text>
</g>
<g fill="none" stroke="#ffffff" stroke-width="6.5">
<circle cx="688.3" cy="602" r="9.15"/><circle cx="711.5" cy="602" r="9.15"/>
</g>
<ellipse cx="699.9" cy="602" rx="2.6" ry="5.2" fill="none" stroke="#f7f7f7" stroke-width="0.9"/>
</svg>
</body></html>
